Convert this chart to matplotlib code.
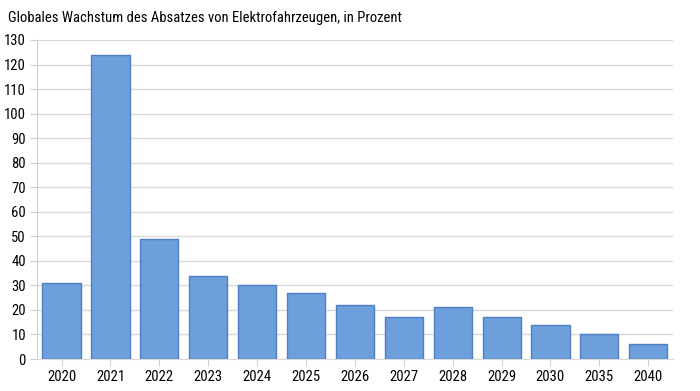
import matplotlib.pyplot as plt
import numpy as np

years = ['2020', '2021', '2022', '2023', '2024', '2025', '2026',
         '2027', '2028', '2029', '2030', '2035', '2040']
growth = [31, 124, 49, 34, 30, 27, 22, 17, 21, 17, 14, 10, 6]

plt.rcParams['font.family'] = ['Roboto Condensed', 'Roboto', 'DejaVu Sans']

fig = plt.figure(figsize=(7, 3.91), dpi=100)
ax = fig.add_axes([0.053, 0.0818, 0.908, 0.816])

x = np.arange(len(years))
ax.bar(x, growth, width=0.78, color='#6c9fdc', edgecolor='#4f7fc2', linewidth=1, zorder=3)

ax.set_xlim(-0.5, len(years) - 0.5)
ax.set_ylim(0, 130)
ax.set_yticks(range(0, 131, 10))
ax.set_xticks(x)
ax.set_xticklabels(years)

ax.grid(axis='y', color='#d9d9d9', linewidth=1, zorder=0)
for s in ['top', 'right']:
    ax.spines[s].set_visible(False)
ax.spines['left'].set_color('#d0d0d0')
ax.spines['bottom'].set_color('#d9d9d9')
ax.tick_params(axis='y', length=5, color='#d0d0d0', labelsize=10.5, pad=3)
ax.tick_params(axis='x', length=5, color='#d0d0d0', labelsize=10.5, pad=3)

fig.text(0.011, 0.955, 'Globales Wachstum des Absatzes von Elektrofahrzeugen, in Prozent',
         fontsize=10.5, va='center', ha='left')

fig.savefig('out.png', dpi=100)
